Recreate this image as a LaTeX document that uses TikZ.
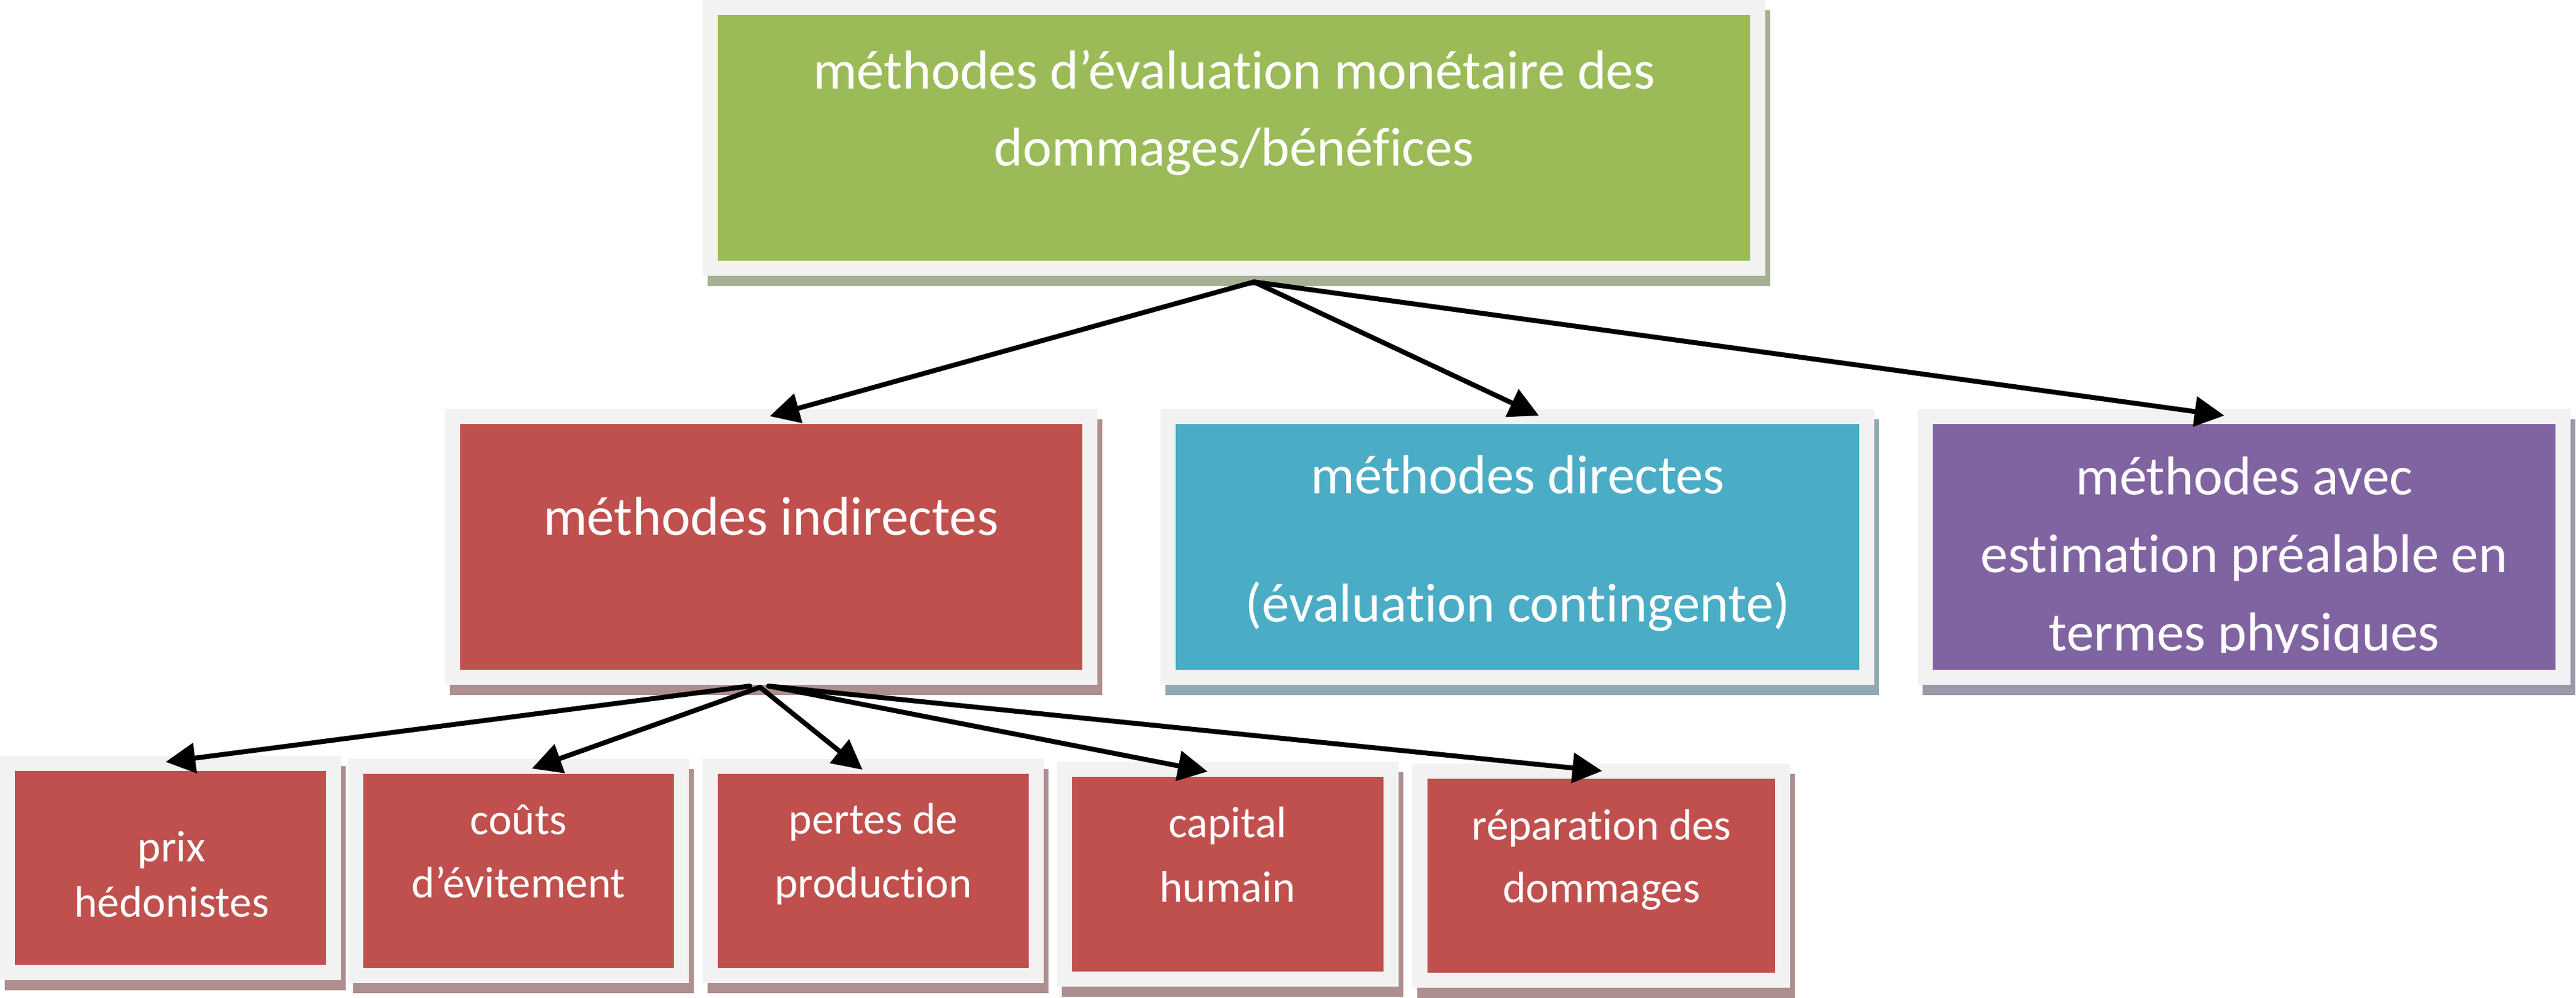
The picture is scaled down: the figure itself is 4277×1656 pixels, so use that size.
\documentclass[tikz,border=0pt]{standalone}
\usepackage{fontspec}
\setmainfont{Carlito}[Ligatures=NoCommon]
\usetikzlibrary{arrows.meta,calc}
\definecolor{framec}{HTML}{F2F2F2}
\definecolor{greenc}{HTML}{9BBB59}
\definecolor{greensh}{HTML}{A5B094}
\definecolor{redc}{HTML}{C0504D}
\definecolor{redsh}{HTML}{AE8F8F}
\definecolor{bluec}{HTML}{4BACC6}
\definecolor{bluesh}{HTML}{90AAB3}
\definecolor{purc}{HTML}{8064A2}
\definecolor{pursh}{HTML}{9D97A9}
\tikzset{
  framebox/.style 2 args={rectangle, inner sep=0pt, fill=#1, draw=framec, line width=0.25cm,
    preaction={draw=#2, fill=#2, line width=0.25cm, transform canvas={xshift=0.08cm, yshift=-0.17cm}}},
  midbox/.style={minimum height=4.33cm},
  lowbox/.style={minimum width=5.41cm, minimum height=3.47cm},
  bigtxt/.style={text=white, font=\fontsize{25.9pt}{31pt}\selectfont, anchor=base, inner sep=0pt},
  smalltxt/.style={text=white, font=\fontsize{20.8pt}{25pt}\selectfont, anchor=base, inner sep=0pt},
  arr/.style={line width=2.3pt, line cap=round, -{Triangle[length=14pt, width=14pt]}}
}
\begin{document}
\begin{tikzpicture}[x=0.01cm, y=-0.01cm]
\useasboundingbox (0,0) rectangle (4277,1656);
% top
\node[framebox={greenc}{greensh}, minimum width=17.38cm, minimum height=4.33cm] (top) at (2048.5,229) {};
% middle row
\node[framebox={redc}{redsh}, midbox, minimum width=10.58cm] (ind) at (1280.5,908) {};
\node[framebox={bluec}{bluesh}, midbox, minimum width=11.60cm] (dir) at (2519.5,908) {};
\node[framebox={purc}{pursh}, midbox, minimum width=10.59cm] (phys) at (3726,908) {};
% bottom row
\node[framebox={redc}{redsh}, lowbox] (b1) at (283,1441) {};
\node[framebox={redc}{redsh}, lowbox] (b2) at (861,1446) {};
\node[framebox={redc}{redsh}, lowbox] (b3) at (1450,1446) {};
\node[framebox={redc}{redsh}, lowbox] (b4) at (2038.5,1451.5) {};
\node[framebox={redc}{redsh}, lowbox, minimum width=6.02cm] (b5) at (2658.5,1454) {};
% texts
\node[bigtxt] (ttop1) at (2049,147) {méthodes d’évaluation monétaire des};
\node[bigtxt] (ttop2) at (2049,275) {dommages/bénéfices};
\node[bigtxt] (tind) at (1280,888) {méthodes indirectes};
\node[bigtxt] (tdir1) at (2520,819) {méthodes directes};
\node[bigtxt] (tdir2) at (2520,1032) {(évaluation contingente)};
\begin{scope}
\clip (3209,704) rectangle (4243,1083);
\node[bigtxt] (tph1) at (3726,821) {méthodes avec};
\node[bigtxt] (tph2) at (3726,950) {estimation préalable en};
\node[bigtxt] (tph3) at (3726,1080) {termes physiques};
\end{scope}
\node[smalltxt] (tb1a) at (285,1430) {prix};
\node[smalltxt] (tb1b) at (285,1522) {hédonistes};
\node[smalltxt] (tb2a) at (861,1385) {coûts};
\node[smalltxt] (tb2b) at (861,1490) {d’évitement};
\node[smalltxt] (tb3a) at (1450,1384) {pertes de};
\node[smalltxt] (tb3b) at (1450,1490) {production};
\node[smalltxt] (tb4a) at (2038,1390) {capital};
\node[smalltxt] (tb4b) at (2038,1497) {humain};
\node[smalltxt] (tb5a) at (2659,1394) {réparation des};
\node[smalltxt] (tb5b) at (2659,1498) {dommages};
% connector ends
\coordinate (srcTop) at (2082,468);
\coordinate (tipInd) at (1278,691);
\coordinate (tipDir) at (2555,690);
\coordinate (tipPhys) at (3693,690);
\coordinate (srcIndL) at (1245,1139);
\coordinate (srcIndM) at (1262,1141);
\coordinate (srcIndR) at (1276,1139);
\coordinate (tip1) at (275,1265);
\coordinate (tip2) at (883,1276);
\coordinate (tip3) at (1432,1278);
\coordinate (tip4) at (2005,1281);
\coordinate (tip5) at (2660,1280);
% arrows
\draw[arr] (srcTop) -- (tipInd);
\draw[arr] (srcTop) -- (tipDir);
\draw[arr] (srcTop) -- (tipPhys);
\draw[arr] (srcIndL) -- (tip1);
\draw[arr] (srcIndM) -- (tip2);
\draw[arr] (srcIndM) -- (tip3);
\draw[arr] (srcIndR) -- (tip4);
\draw[arr] (srcIndR) -- (tip5);
\end{tikzpicture}
\end{document}
